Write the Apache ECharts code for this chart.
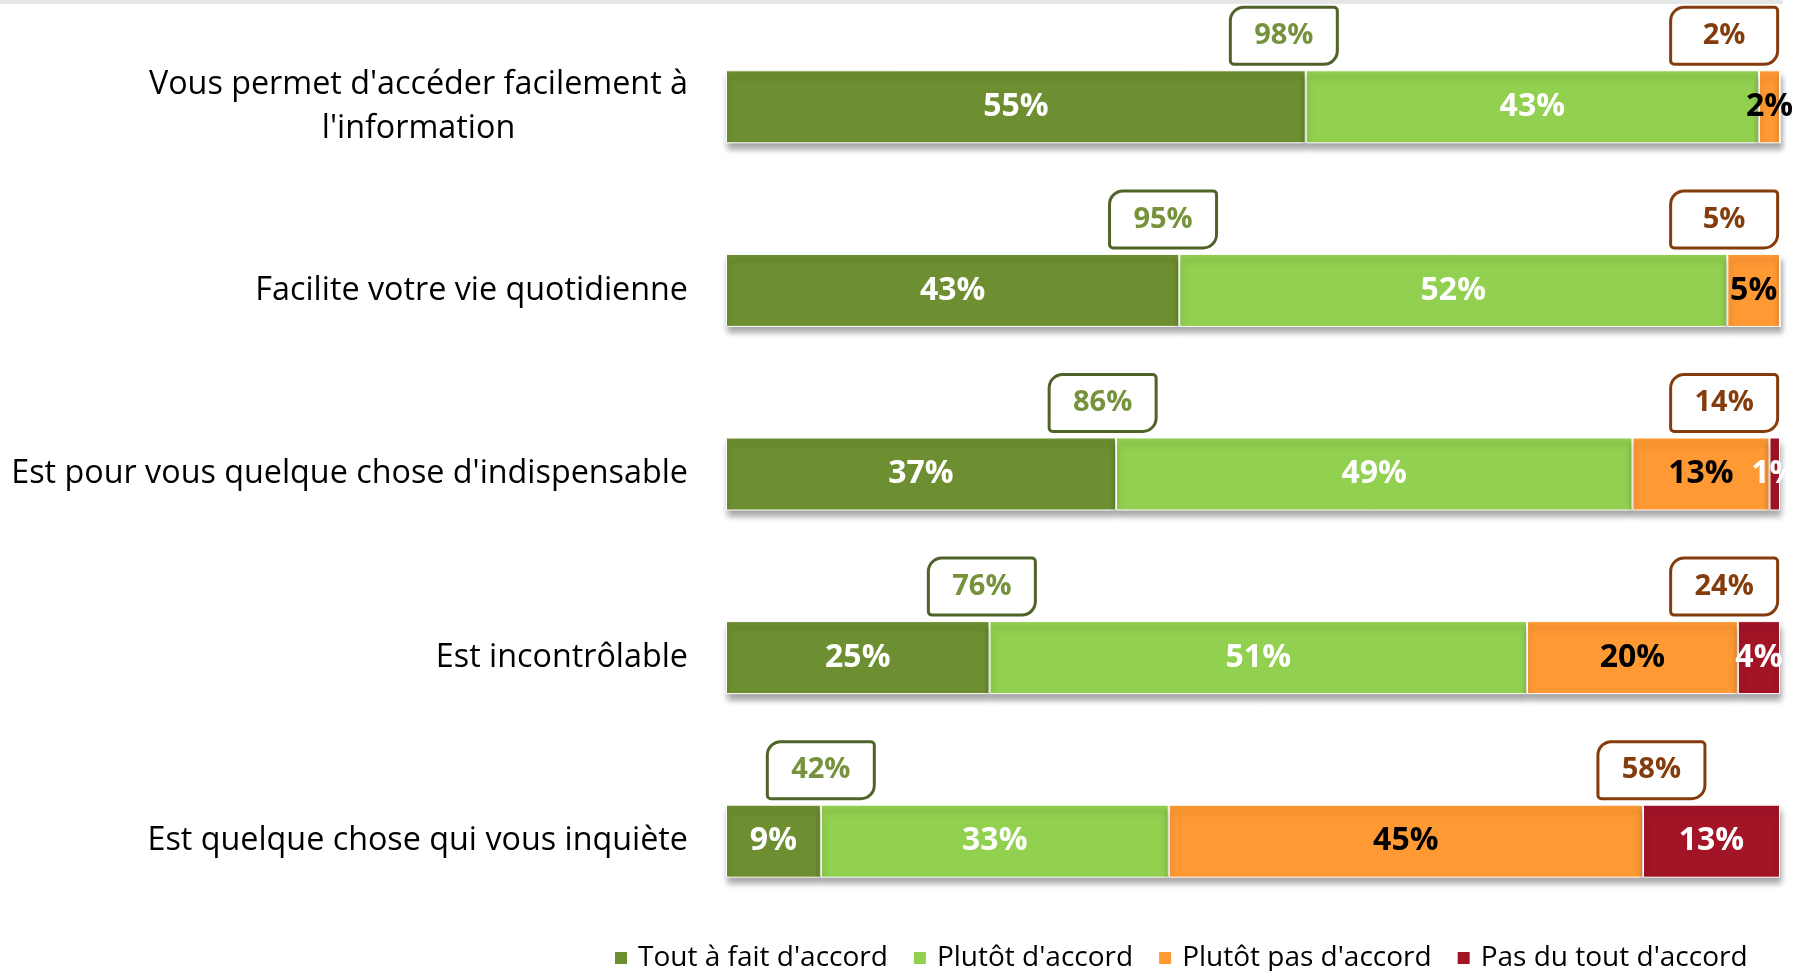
<!DOCTYPE html>
<html>
<head>
<meta charset="utf-8">
<script src="https://cdn.jsdelivr.net/npm/echarts@6/dist/echarts.min.js"></script>
<style>
  html, body { margin: 0; padding: 0; background: #fff; }
  #chart { width: 1804px; height: 971px; }
</style>
</head>
<body>
<div id="chart"></div>
<script>
const categories = [
  "Vous permet d'accéder facilement à\nl'information",
  'Facilite votre vie quotidienne',
  "Est pour vous quelque chose d'indispensable",
  'Est incontrôlable',
  'Est quelque chose qui vous inquiète'
]
const seriesNames = ["Tout à fait d'accord", "Plutôt d'accord", "Plutôt pas d'accord", "Pas du tout d'accord"]
const toutAFait = [55, 43, 37, 25, 9]
const plutot = [43, 52, 49, 51, 33]
const plutotPas = [2, 5, 13, 20, 45]
const pasDuTout = [0, 0, 1, 4, 13]
const totalAccord = [98, 95, 86, 76, 42]
const totalPas = [2, 5, 14, 24, 58]

const FONT = "'Open Sans', sans-serif"
const colors = ['#6E8F31', '#92D050', '#FF9933', '#A21426']
const labelColors = ['#fff', '#fff', '#000', '#fff']
const RED_BOX_MAX = 94.7

const chart = echarts.init(document.getElementById('chart'))

const barSeries = [toutAFait, plutot, plutotPas, pasDuTout].map((vals, k) => ({
  name: seriesNames[k],
  type: 'bar',
  stack: 'total',
  barWidth: 73,
  data: vals,
  itemStyle: {
    color: colors[k],
    borderColor: '#fff',
    borderWidth: 1,
    shadowColor: 'rgba(0,0,0,0.35)',
    shadowBlur: 6,
    shadowOffsetY: 6,
    shadowOffsetX: 1
  },
  label: {
    show: true,
    position: 'inside',
    formatter: p => (p.value ? p.value + '%' : ''),
    color: labelColors[k],
    fontFamily: FONT,
    fontWeight: 'bold',
    fontSize: 32
  }
}))

// callout boxes sitting just above each bar
function boxSeries (anchor, texts, border, textColor) {
  return {
    type: 'scatter',
    symbol: 'rect',
    symbolSize: 1,
    itemStyle: { color: 'rgba(0,0,0,0)', opacity: 1 },
    z: 5,
    silent: true,
    data: anchor.map((x, i) => [x, categories[i]]),
    label: {
      show: true,
      position: 'inside',
      offset: [0, -71],
      formatter: p => texts[p.dataIndex] + '%',
      width: 104,
      height: 54,
      lineHeight: 54,
      align: 'center',
      verticalAlign: 'middle',
      backgroundColor: '#fff',
      borderColor: border,
      borderWidth: 3,
      borderRadius: [12, 2, 12, 2],
      color: textColor,
      fontFamily: FONT,
      fontWeight: 'bold',
      fontSize: 29
    }
  }
}

const greenAnchor = toutAFait.map(v => v * 0.955 + 0.4)
const redAnchor = pasDuTout.map(v => Math.min(100 - v + 0.8, RED_BOX_MAX))

chart.setOption({
  animation: false,
  color: colors,
  graphic: [{
    type: 'rect',
    shape: { x: 0, y: 0, width: 1783, height: 4 },
    style: { fill: '#e6e6e6' }
  }],
  legend: {
    data: seriesNames,
    top: 939,
    left: 608,
    icon: 'rect',
    itemWidth: 14,
    itemHeight: 14,
    itemGap: 24,
    textStyle: { fontFamily: FONT, fontSize: 28, color: '#000', padding: [0, 0, 0, 5] }
  },
  grid: { left: 726, right: 24, top: 15, bottom: 38, containLabel: false, outerBoundsMode: 'none' },
  xAxis: {
    type: 'value',
    min: 0,
    max: 100,
    show: false
  },
  yAxis: {
    type: 'category',
    inverse: true,
    data: categories,
    axisLine: { show: false },
    axisTick: { show: false },
    axisLabel: {
      margin: 38,
      color: '#000',
      fontFamily: FONT,
      fontSize: 32.3,
      lineHeight: 44,
      formatter: v => v.split('\n').map(s => '{c|' + s + '}').join('\n'),
      rich: {
        c: { align: 'center', fontFamily: FONT, fontSize: 32.3, lineHeight: 44, color: '#000' }
      }
    }
  },
  series: [
    ...barSeries,
    boxSeries(greenAnchor, totalAccord, '#4F6228', '#76923C'),
    boxSeries(redAnchor, totalPas, '#843C0C', '#843C0C')
  ]
})
</script>
</body>
</html>
